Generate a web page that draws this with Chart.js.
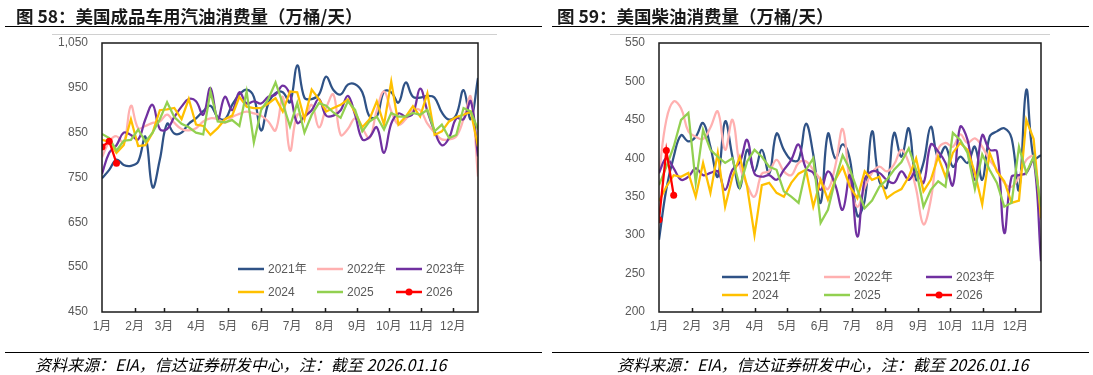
<!DOCTYPE html>
<html>
<head>
<meta charset="utf-8">
<script src="https://cdn.jsdelivr.net/npm/chart.js@4.4.1/dist/chart.umd.min.js"></script>
<style>
  body { margin: 0; background: #fff; }
  #page { position: relative; width: 1093px; height: 375px; overflow: hidden; font-family: "Noto Sans CJK SC", "Liberation Sans", sans-serif; }
  .title { position: absolute; top: 6px; font-size: 17.5px; font-weight: bold; color: #1a1a1a; white-space: nowrap; line-height: 20px; z-index: 2; }
  .rule { position: absolute; height: 1px; background: #000; z-index: 2; }
  .edge { position: absolute; height: 1px; background: #d0d0d0; z-index: 2; }
  .src { position: absolute; top: 354px; font-size: 16px; font-style: italic; color: #000; white-space: nowrap; line-height: 20px; z-index: 2; }
  .box { position: absolute; top: 0; height: 375px; }
</style>
</head>
<body>
<div id="page">
  <div class="title" style="left:16px">图 58：美国成品车用汽油消费量（万桶/天）</div>
  <div class="title" style="left:557px">图 59：美国柴油消费量（万桶/天）</div>
  <div class="rule" style="top:26px;left:5px;width:537px"></div>
  <div class="rule" style="top:26px;left:552px;width:537px"></div>
  <div class="edge" style="top:34px;left:52px;width:445px"></div>
  <div class="edge" style="top:34px;left:610px;width:440px"></div>

  <div class="box" style="left:0;width:546px"><canvas id="gasChart"></canvas></div>
  <div class="box" style="left:546px;width:547px"><canvas id="dieselChart"></canvas></div>

  <div class="rule" style="top:352px;left:5px;width:537px"></div>
  <div class="rule" style="top:352px;left:552px;width:537px"></div>
  <div class="src" style="left:35px">资料来源：EIA，信达证券研发中心，注：截至 2026.01.16</div>
  <div class="src" style="left:617px">资料来源：EIA，信达证券研发中心，注：截至 2026.01.16</div>
</div>

<script>
// x axis: months, weekly points spread over the year
const MONTHS = ["1月", "2月", "3月", "4月", "5月", "6月", "7月", "8月", "9月", "10月", "11月", "12月"];
const MONTH_START_DAYS = [0, 31, 59, 90, 120, 151, 181, 212, 243, 273, 304, 334];
const AXIS_END_DAY = 358;
const WEEKS = 53;

const SERIES_NAMES = ["2021年", "2022年", "2023年", "2024", "2025", "2026"];
const SERIES_COLORS = ["#2F5286", "#FFB0B0", "#7030A0", "#FFC000", "#92D050", "#FF0000"];
const SERIES_SMOOTH = [true, true, true, false, false, false];

// 美国成品车用汽油消费量 (万桶/天)
const gas2021 = [748, 767, 790, 778, 776, 785, 841, 728, 790, 870, 848, 850, 870, 882, 898, 910, 885, 880, 912, 935,
  946, 930, 855, 915, 938, 940, 918, 1000, 928, 925, 935, 975, 945, 935, 957, 958, 940, 886, 886, 942,
  940, 917, 962, 930, 928, 932, 928, 895, 879, 890, 945, 880, 972];
const gas2022 = [795, 830, 842, 827, 910, 860, 865, 872, 875, 890, 872, 858, 855, 860, 875, 882, 880, 872, 885, 892,
  897, 893, 888, 875, 855, 930, 810, 890, 885, 912, 862, 905, 935, 845, 858, 882, 860, 838, 900, 942,
  898, 868, 880, 900, 900, 870, 850, 835, 835, 842, 880, 930, 752];
const gas2023 = [758, 805, 822, 850, 845, 835, 880, 912, 858, 858, 885, 908, 925, 920, 890, 950, 880, 930, 900, 940,
  915, 920, 915, 930, 935, 955, 935, 872, 886, 900, 925, 888, 888, 900, 932, 890, 835, 840, 862, 805,
  870, 893, 886, 893, 948, 898, 853, 822, 838, 882, 880, 920, 797];
const gas2024 = [834, 830, 805, 822, 880, 820, 822, 850, 900, 902, 905, 880, 925, 868, 865, 845, 860, 880, 888, 930,
  908, 905, 905, 915, 927, 897, 942, 940, 880, 946, 925, 897, 905, 912, 924, 895, 862, 880, 920, 868,
  964, 868, 886, 909, 886, 938, 845, 853, 875, 885, 890, 897, 819];
const gas2025 = [847, 838, 810, 832, 834, 857, 830, 850, 880, 918, 885, 870, 862, 850, 846, 942, 875, 873, 878, 865,
  942, 828, 900, 925, 962, 915, 864, 916, 850, 890, 916, 910, 895, 883, 920, 901, 853, 875, 886, 857,
  894, 886, 886, 894, 890, 901, 853, 868, 838, 845, 905, 897, 857];
const gas2026 = [818, 831, 782];
const GAS_TICKS = [450, 550, 650, 750, 850, 950, 1050];

// 美国柴油消费量 (万桶/天)
const dsl2021 = [294, 360, 402, 430, 422, 428, 446, 415, 376, 448, 402, 361, 411, 383, 411, 380, 432, 411, 398, 398,
  445, 405, 342, 432, 400, 418, 398, 325, 345, 435, 370, 362, 433, 402, 439, 372, 394, 441, 400, 415,
  389, 402, 394, 415, 372, 428, 435, 439, 426, 359, 489, 400, 404];
const dsl2022 = [380, 450, 474, 465, 435, 428, 425, 440, 461, 411, 450, 390, 365, 350, 380, 383, 398, 383, 378, 394,
  396, 385, 372, 360, 390, 438, 368, 337, 362, 381, 389, 383, 392, 411, 394, 360, 314, 346, 411, 420,
  415, 431, 420, 426, 415, 398, 385, 368, 363, 376, 398, 402, 320];
const dsl2023 = [381, 400, 387, 372, 376, 387, 378, 381, 383, 359, 385, 395, 424, 380, 376, 378, 372, 385, 398, 418,
  387, 381, 359, 383, 365, 333, 378, 298, 372, 383, 381, 372, 368, 383, 372, 383, 368, 418, 409, 394,
  365, 441, 424, 372, 430, 411, 409, 303, 376, 378, 381, 398, 266];
const dsl2024 = [344, 363, 378, 376, 381, 350, 394, 355, 407, 337, 376, 402, 363, 300, 365, 368, 355, 350, 368, 380,
  385, 337, 372, 346, 372, 389, 363, 348, 383, 372, 376, 348, 355, 360, 376, 400, 357, 372, 402, 376,
  407, 420, 411, 381, 340, 407, 383, 370, 342, 345, 450, 425, 322];
const dsl2025 = [365, 389, 415, 450, 459, 368, 437, 411, 402, 394, 400, 363, 396, 411, 402, 389, 385, 357, 350, 342,
  385, 400, 316, 333, 372, 404, 385, 359, 335, 345, 363, 372, 385, 395, 413, 385, 337, 359, 370, 363,
  433, 424, 407, 360, 405, 385, 368, 337, 342, 415, 381, 402, 337];
const dsl2026 = [320, 410, 352];
const DSL_TICKS = [200, 250, 300, 350, 400, 450, 500, 550];

const TICK_FONT = { family: "'Liberation Sans', 'Noto Sans CJK SC', sans-serif", size: 12 };
const TEXT_GREY = "#595959";

// plot frame + inward month ticks
const framePlugin = {
  id: "frame",
  afterDatasetsDraw(chart) {
    const { ctx, chartArea: a, scales } = chart;
    ctx.save();
    ctx.strokeStyle = "#1a1a1a";
    ctx.lineWidth = 1.5;
    ctx.strokeRect(a.left, a.top, a.right - a.left, a.bottom - a.top);
    ctx.beginPath();
    MONTH_START_DAYS.slice(1).forEach(d => {
      const px = Math.round(scales.x.getPixelForValue(d)) + 0.5;
      ctx.moveTo(px, a.bottom);
      ctx.lineTo(px, a.bottom - 4);
    });
    ctx.stroke();
    ctx.restore();
  }
};

// legend drawn inside the plot, 3 columns x 2 rows
const yearLegend = {
  id: "yearLegend",
  afterDraw(chart, args, opts) {
    const ctx = chart.ctx;
    ctx.save();
    ctx.font = "12px 'Liberation Sans', 'Noto Sans CJK SC', sans-serif";
    ctx.textBaseline = "middle";
    chart.data.datasets.forEach((ds, i) => {
      const x = opts.x + (i % 3) * opts.colW;
      const y = opts.y + Math.floor(i / 3) * opts.rowH;
      ctx.strokeStyle = ds.borderColor;
      ctx.lineWidth = 2.5;
      ctx.beginPath();
      ctx.moveTo(x, y);
      ctx.lineTo(x + opts.lineLen, y);
      ctx.stroke();
      if (ds.pointRadius > 0) {
        ctx.fillStyle = ds.borderColor;
        ctx.beginPath();
        ctx.arc(x + opts.lineLen / 2, y, 3.5, 0, Math.PI * 2);
        ctx.fill();
      }
      ctx.fillStyle = TEXT_GREY;
      ctx.fillText(ds.label, x + opts.lineLen + 4, y + 1);
    });
    ctx.restore();
  }
};

function toPoints(values) {
  return values.map((v, i) => ({ x: i * AXIS_END_DAY / (WEEKS - 1), y: v }));
}

function buildDatasets(seriesList) {
  return seriesList.map((values, i) => ({
    label: SERIES_NAMES[i],
    data: toPoints(values),
    borderColor: SERIES_COLORS[i],
    backgroundColor: SERIES_COLORS[i],
    borderWidth: 2.25,
    tension: SERIES_SMOOTH[i] ? 0.4 : 0,
    pointRadius: i === 5 ? 3.5 : 0,
    pointBorderWidth: 0,
    pointBackgroundColor: SERIES_COLORS[i],
    fill: false,
    order: seriesList.length - i
  }));
}

function makeChart(id, seriesList, yTicks, layout) {
  const ctx = document.getElementById(id).getContext("2d");
  return new Chart(ctx, {
    type: "line",
    data: { datasets: buildDatasets(seriesList) },
    plugins: [framePlugin, yearLegend],
    options: {
      responsive: true,
      maintainAspectRatio: false,
      animation: false,
      devicePixelRatio: 1,
      layout: { padding: { top: 43, right: layout.padRight, bottom: 33, left: 0 } },
      plugins: {
        legend: { display: false },
        tooltip: { enabled: false },
        yearLegend: layout.legend
      },
      scales: {
        x: {
          type: "linear",
          min: 0,
          max: AXIS_END_DAY,
          afterBuildTicks: scale => { scale.ticks = MONTH_START_DAYS.map(v => ({ value: v })); },
          afterFit: scale => { scale.height = 30; },
          grid: { display: false, drawTicks: false },
          border: { display: false },
          ticks: {
            autoSkip: false, maxRotation: 0, minRotation: 0, padding: 7,
            color: TEXT_GREY, font: TICK_FONT,
            callback: (value, index) => MONTHS[index]
          }
        },
        y: {
          min: yTicks[0],
          max: yTicks[yTicks.length - 1],
          afterBuildTicks: scale => { scale.ticks = yTicks.map(v => ({ value: v })); },
          afterFit: scale => { scale.width = layout.yWidth; },
          grid: { display: false, drawTicks: false },
          border: { display: false },
          ticks: {
            padding: 14, color: TEXT_GREY, font: TICK_FONT,
            callback: value => value.toLocaleString("en-US")
          }
        }
      }
    }
  });
}

makeChart("gasChart", [gas2021, gas2022, gas2023, gas2024, gas2025, gas2026], GAS_TICKS, {
  padRight: 68, yWidth: 102,
  legend: { x: 238, y: 269, colW: 79, rowH: 23, lineLen: 26 }
});

makeChart("dieselChart", [dsl2021, dsl2022, dsl2023, dsl2024, dsl2025, dsl2026], DSL_TICKS, {
  padRight: 52, yWidth: 113,
  legend: { x: 176, y: 277, colW: 102, rowH: 18, lineLen: 26 }
});
</script>
</body>
</html>
